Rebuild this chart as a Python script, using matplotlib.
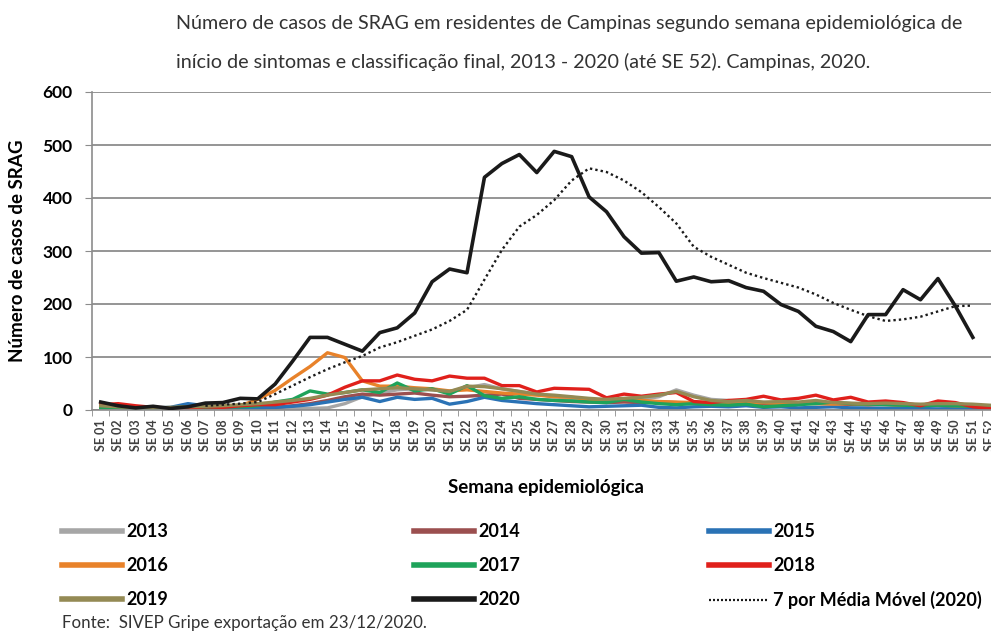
import numpy as np
import matplotlib.pyplot as plt
from matplotlib.lines import Line2D

plt.rcParams['font.family'] = ['Lato', 'DejaVu Sans']

nan = np.nan
semanas = ['SE %02d' % i for i in range(1, 53)]

s2013 = [5, 4, 3, 3, 3, 4, 5, 5, 5, 5, 5, 4, 3, 4, 12, 25, 32, 38, 40, 38, 35, 42, 48, 40, 35, 30,
         25, 22, 18, 15, 18, 20, 25, 38, 28, 20, 18, 15, 14, 12, 12, 14, 13, 12, 10, 11, 10, 9, 10, 9, 8, 6]
s2014 = [5, 6, 4, 3, 4, 5, 6, 6, 5, 6, 5, 8, 12, 18, 25, 30, 28, 30, 32, 28, 25, 26, 28, 30, 22, 20,
         18, 16, 15, 14, 15, 14, 15, 14, 12, 12, 14, 13, 12, 11, 12, 14, 12, 10, 11, 10, 9, 10, 8, 8, 7, 6]
s2015 = [6, 5, 3, 4, 5, 12, 8, 6, 5, 4, 5, 7, 10, 15, 20, 24, 16, 24, 20, 22, 11, 16, 24, 18, 15, 12,
         10, 8, 6, 7, 8, 9, 5, 4, 6, 7, 6, 8, 5, 6, 4, 5, 6, 4, 4, 3, 3, 3, 2, 3, 2, 2]
s2016 = [6, 5, 4, 3, 4, 5, 6, 7, 8, 20, 37, 60, 82, 108, 99, 55, 45, 45, 42, 40, 36, 38, 35, 32, 30, 28,
         25, 24, 20, 18, 20, 18, 16, 15, 14, 15, 14, 13, 14, 12, 13, 12, 11, 12, 10, 11, 9, 10, 9, 8, 8, 6]
s2017 = [4, 5, 3, 3, 4, 6, 5, 6, 6, 8, 15, 20, 36, 30, 33, 38, 33, 51, 36, 40, 30, 46, 27, 22, 25, 20,
         18, 17, 15, 14, 20, 15, 12, 10, 12, 10, 9, 11, 6, 8, 10, 12, 15, 12, 11, 10, 9, 8, 9, 8, 7, 6]
s2018 = [10, 12, 8, 5, 4, 4, 6, 5, 8, 10, 10, 15, 20, 28, 43, 55, 55, 66, 58, 55, 64, 60, 60, 46, 46, 34,
         41, 40, 39, 23, 30, 26, 30, 33, 16, 14, 18, 20, 26, 19, 22, 28, 19, 24, 15, 17, 14, 8, 17, 14, 6, 3]
s2019 = [8, 6, 4, 4, 5, 6, 7, 8, 10, 12, 15, 18, 22, 28, 33, 38, 40, 42, 40, 38, 35, 45, 44, 40, 35, 30,
         28, 25, 22, 20, 22, 24, 28, 35, 25, 18, 16, 18, 15, 16, 15, 18, 14, 13, 12, 13, 12, 11, 12, 12, 11, 9]
s2020 = [15, 8, 4, 7, 3, 6, 13, 14, 22, 21, 49, 92, 137, 137, 124, 111, 146, 155, 183, 242, 266, 259, 439, 465, 482, 448,
         488, 478, 402, 374, 327, 296, 297, 243, 251, 242, 244, 231, 224, 199, 186, 158, 148, 129, 180, 180, 227, 208, 248, 196, 137, nan]
media_movel = [nan, nan, nan, nan, nan, nan, 8, 10, 12, 15, 30, 46, 62, 77, 90, 102, 118, 128, 140, 152, 168, 189, 246, 302, 346, 368,
               396, 433, 456, 449, 433, 411, 383, 352, 308, 289, 274, 259, 249, 240, 231, 218, 202, 189, 177, 168, 171, 176, 186, 196, 197, nan]

series = [('2013', s2013, '#a6a6a6'), ('2014', s2014, '#9b4f4f'), ('2015', s2015, '#2a72b5'),
          ('2016', s2016, '#e8822a'), ('2017', s2017, '#1ea35a'), ('2018', s2018, '#e0201b'),
          ('2019', s2019, '#948a54'), ('2020', s2020, '#1a1a1a')]

x = np.arange(1, 53)
fig = plt.figure(figsize=(9.91, 6.32), dpi=100)
ax = fig.add_axes([92 / 991, 222 / 632, 907 / 991, 318 / 632])

handles = {}
for nome, vals, cor in series:
    lw = 2.6 if nome == '2020' else 2.4
    ln, = ax.plot(x, vals, color=cor, lw=lw, solid_joinstyle='round', zorder=3 if nome == '2020' else 2)
    handles[nome] = ln
ln, = ax.plot(x, media_movel, color='#1a1a1a', lw=1.7, ls=(0, (1, 1.3)), zorder=3)
handles['7 por Média Móvel (2020)'] = ln

ax.set_xlim(0.5, 52.5)
ax.set_ylim(0, 600)
ax.set_yticks(range(0, 601, 100))
ax.yaxis.grid(True, color='#8c8c8c', lw=1.3)
ax.set_axisbelow(True)
for s in ['top', 'right']:
    ax.spines[s].set_visible(False)
for s in ['left', 'bottom']:
    ax.spines[s].set_color('#8c8c8c')
    ax.spines[s].set_linewidth(1.2)

ax.set_xticks(x)
ax.set_xticklabels(semanas, rotation=90, fontsize=9, fontweight='bold', color='#404040')
ax.set_xticks(np.arange(0.5, 53, 1), minor=True)
ax.tick_params(axis='x', which='major', length=0, pad=7)
ax.tick_params(axis='x', which='minor', length=4, color='#8c8c8c')
ax.tick_params(axis='y', length=5, color='#8c8c8c', labelsize=12.5, pad=9)
for t in ax.get_yticklabels():
    t.set_fontweight('bold')

ax.set_xlabel('Semana epidemiológica', fontsize=13.5, fontweight='bold', labelpad=20)
ax.set_ylabel('Número de casos de SRAG', fontsize=13.5, fontweight='bold', labelpad=12)

fig.text(176 / 991, 1 - 23 / 632, 'Número de casos de SRAG em residentes de Campinas segundo semana epidemiológica de',
         ha='left', va='center', fontsize=14.2, color='#333333')
fig.text(176 / 991, 1 - 62 / 632, 'início de sintomas e classificação final, 2013 - 2020 (até SE 52). Campinas, 2020.',
         ha='left', va='center', fontsize=14.2, color='#333333')

colunas = [(['2013', '2016', '2019'], 62), (['2014', '2017', '2020'], 414), (['2015', '2018', '7 por Média Móvel (2020)'], 709)]
for nomes, x0 in colunas:
    hs = []
    for n in nomes:
        h = handles[n]
        if n[0] == '2':
            hs.append(Line2D([], [], color=h.get_color(), lw=4))
        else:
            hs.append(Line2D([], [], color=h.get_color(), lw=1.6, ls=(0, (0.9, 0.9))))
    fig.legend(hs, nomes, loc='upper left', bbox_to_anchor=(x0 / 991, 1 - 523 / 632), frameon=False,
               prop={'weight': 'bold', 'size': 13}, handlelength=3.3, handletextpad=0.25, labelspacing=0.95,
               borderaxespad=0, borderpad=0)

fig.text(62 / 991, 1 - 623 / 632, 'Fonte:  SIVEP Gripe exportação em 23/12/2020.', fontsize=12.2, color='#333333', va='center')

fig.savefig('out.png', dpi=100)
